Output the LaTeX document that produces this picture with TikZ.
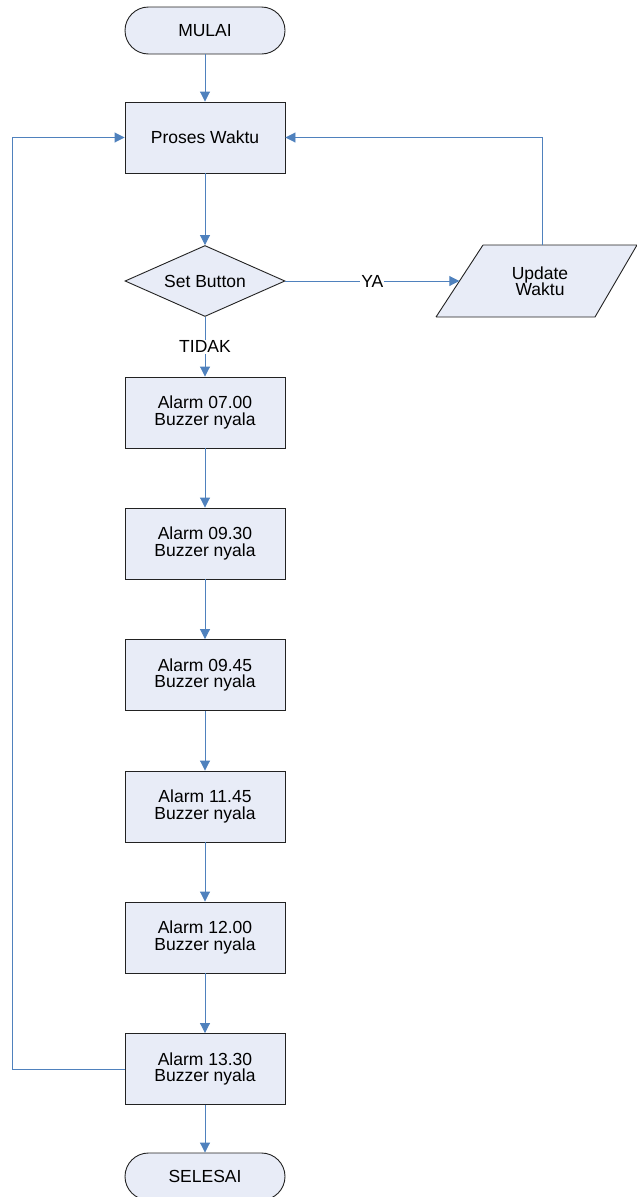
\documentclass[tikz,border=0pt]{standalone}
\usepackage{fontspec}
\setmainfont{Liberation Sans}
\usetikzlibrary{shapes.geometric,arrows.meta}
\definecolor{fc}{HTML}{E8ECF7}
\definecolor{lc}{HTML}{4F81BD}
\definecolor{bc}{HTML}{222222}
\begin{document}
\begin{tikzpicture}[x=1pt,y=-1pt,
  base/.style={draw=bc,fill=fc,line width=0.9pt,inner sep=0pt,align=center,font=\fontsize{17.5}{16.5}\selectfont},
  proc/.style={base,rectangle,minimum width=160pt,minimum height=71pt},
  term/.style={base,rectangle,rounded corners=23.5pt,minimum width=160pt,minimum height=47pt},
  dec/.style={base,diamond,aspect=2.25,minimum width=160pt,minimum height=71pt},
  conn/.style={draw=lc,line width=0.9pt,-{Triangle[length=10pt,width=10pt]}},
  lbl/.style={fill=white,inner sep=1pt,font=\fontsize{17.5}{16.5}\selectfont}]
\useasboundingbox (0,0) rectangle (637,1197);
\node[term] (mulai) at (205,30.5) {MULAI};
\node[proc] (proses) at (205,137.5) {Proses Waktu};
\node[dec] (set) at (205,281) {Set Button};
% parallelogram
\fill[fc] (483,245) -- (637,245) -- (595,317) -- (436,317) -- cycle;
\draw[bc,line width=0.9pt] (483,245) -- (640,245) (436,317) -- (595,317) -- (637,245) (483,245) -- (436,317);
\node[inner sep=0pt,minimum width=155pt,minimum height=72pt,align=center,font=\fontsize{17.5}{16.5}\selectfont] (upd) at (537,281) {\hspace*{6pt}Update\\\hspace*{6pt}Waktu};
\node[proc] (a1) at (205,412.5) {Alarm 07.00\\Buzzer nyala};
\node[proc] (a2) at (205,543.5) {Alarm 09.30\\Buzzer nyala};
\node[proc] (a3) at (205,675) {Alarm 09.45\\Buzzer nyala};
\node[proc] (a4) at (205,806.5) {Alarm 11.45\\Buzzer nyala};
\node[proc] (a5) at (205,937.5) {Alarm 12.00\\Buzzer nyala};
\node[proc] (a6) at (205,1069) {Alarm 13.30\\Buzzer nyala};
\node[term] (selesai) at (205,1176.5) {SELESAI};
\coordinate (R) at (542,137.5);
\coordinate (L1) at (12,1069);
\coordinate (L2) at (12,137.5);
\draw[conn] (mulai) -- (proses);
\draw[conn] (proses) -- (set);
\draw[conn] (set.east) -- node[lbl] {YA} (upd.west);
\draw[conn] (set.south) -- node[lbl] {TIDAK} (a1.north);
\draw[conn] ([xshift=5pt]upd.north) -- (R) -- (proses.east);
\draw[conn] (a1) -- (a2);
\draw[conn] (a2) -- (a3);
\draw[conn] (a3) -- (a4);
\draw[conn] (a4) -- (a5);
\draw[conn] (a5) -- (a6);
\draw[conn] (a6) -- (selesai);
\draw[conn] (a6.west) -- (L1) -- (L2) -- (proses.west);
\end{tikzpicture}
\end{document}
